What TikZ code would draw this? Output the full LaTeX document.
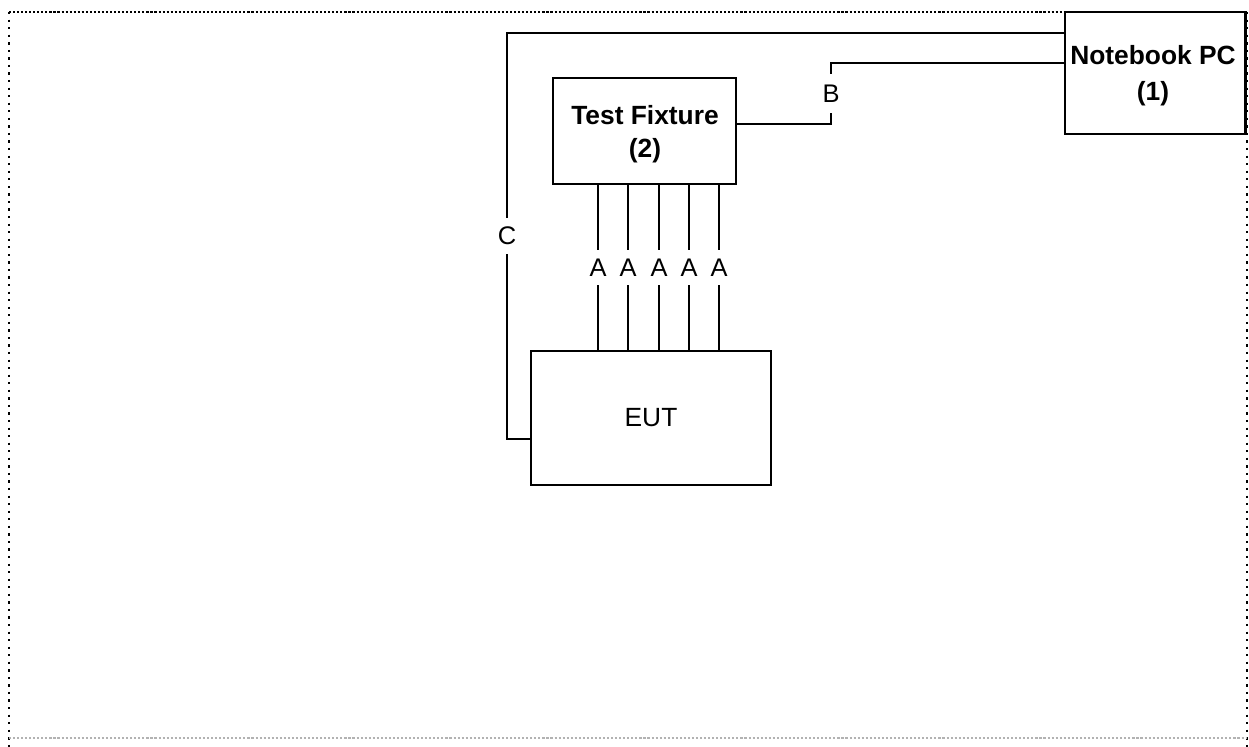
\documentclass[tikz,border=0pt]{standalone}
\usepackage{fontspec}
\setmainfont{Liberation Sans}
\begin{document}
\begin{tikzpicture}[x=0.02cm,y=-0.02cm,
  box/.style={draw,line width=1.7pt,inner sep=0pt},
  txt/.style={align=center,inner sep=0pt,font=\bfseries\fontsize{15}{19}\selectfont},
  wire/.style={line width=1.6pt},
  lbl/.style={fill=white,inner xsep=1pt,inner ysep=5pt,font=\fontsize{14.5}{16}\selectfont},
  hdot/.style={line width=1.5pt,dash pattern=on 1.2pt off 1.1pt},
  vdot/.style={line width=1.6pt,dash pattern=on 1.3pt off 3pt}]
\useasboundingbox (0,0) rectangle (1249,747);
% border
\draw[hdot] (9,12) -- (1247,12);
\draw[vdot] (9,12) -- (9,747);
\draw[vdot] (1247,12) -- (1247,747);
\draw[hdot,black!30] (9,738) -- (1247,738);
% boxes
\node[box,minimum width=180*0.02cm,minimum height=122*0.02cm,fill=white] (nb) at (1155,73) {};
\node[txt,font=\bfseries\fontsize{15}{20.5}\selectfont] (nbt) at (1153,76) {Notebook PC\\(1)};
\node[box,minimum width=183*0.02cm,minimum height=106*0.02cm] (fix) at (644.5,131) {};
\node[txt] (fixt) at (645,134) {Test Fixture\\(2)};
\node[box,minimum width=240*0.02cm,minimum height=134*0.02cm] (eut) at (651,418) {};
\node[txt,font=\fontsize{15}{18}\selectfont] (eutt) at (651,418) {EUT};
% A wires
\foreach \i/\x in {1/598,2/628,3/659,4/689,5/719}{
  \coordinate (ax\i) at (\x,0);
  \draw[wire] (fix.south -| ax\i) -- node[lbl]{A} (eut.north -| ax\i);
}
% C wire
\coordinate (cy) at (0,439);
\coordinate (ct) at (0,33);
\coordinate (cx) at (507,0);
\draw[wire] (eut.west |- cy) -- (cx |- cy) -- node[lbl]{C} (cx |- ct) -- (nb.west |- ct);
% B wire
\coordinate (by) at (0,124);
\coordinate (bt) at (0,63);
\coordinate (bx) at (831,0);
\draw[wire] (fix.east |- by) -- (bx |- by) -- node[lbl,inner ysep=6pt]{B} (bx |- bt) -- (nb.west |- bt);
\end{tikzpicture}
\end{document}
